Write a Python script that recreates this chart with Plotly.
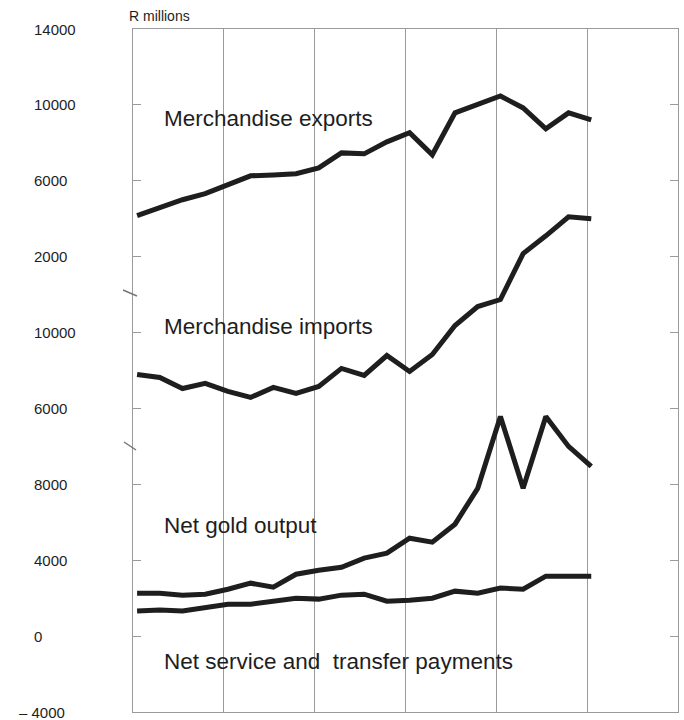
import plotly.graph_objects as go

# ---------------- data (R millions, quarterly) ----------------
quarters = ["1976Q1", "1976Q2", "1976Q3", "1976Q4",
            "1977Q1", "1977Q2", "1977Q3", "1977Q4",
            "1978Q1", "1978Q2", "1978Q3", "1978Q4",
            "1979Q1", "1979Q2", "1979Q3", "1979Q4",
            "1980Q1", "1980Q2", "1980Q3", "1980Q4",
            "1981Q1"]

merch_exports = [4160, 4580, 5000, 5320, 5790, 6260, 6310, 6370, 6680, 7470, 7420,
                 8050, 8530, 7370, 9580, 10050, 10470, 9840, 8740, 9580, 9210]
merch_imports = [7790, 7630, 7050, 7320, 6900, 6580, 7110, 6790, 7160, 8110, 7740,
                 8790, 7950, 8840, 10370, 11370, 11740, 14160, 15100, 16100, 16000]
net_gold = [2260, 2260, 2160, 2210, 2470, 2790, 2580, 3260, 3470, 3630, 4110,
            4370, 5160, 4950, 5900, 7790, 11580, 7790, 11580, 10000, 8950]
net_services = [1320, 1370, 1320, 1470, 1680, 1680, 1840, 2000, 1950, 2160, 2210,
                1840, 1890, 2000, 2370, 2260, 2530, 2470, 3160, 3160, 3160]

exports_ticks = [14000, 10000, 6000, 2000]
imports_ticks = [10000, 6000]
bottom_ticks = [8000, 4000, 0, -4000]
year_lines = [1977, 1978, 1979, 1980, 1981]

# ---------------- helpers ----------------
x = [int(q[:4]) + (int(q[5]) - 1) / 4 + 0.045 for q in quarters]

W, H = 684, 720
ML, MR, MT, MB = 133, 6, 29, 8
PW, PH = W - ML - MR, H - MT - MB


def px_x(p):
    return (p - ML) / PW


def px_y(p):
    return (H - MB - p) / PH


FONT = "Liberation Sans, Arial, Helvetica, sans-serif"
INK = "#1e1e1e"
GRID = "#9a9a9a"
LINE_W = 5

fig = go.Figure()
fig.add_trace(go.Scatter(x=x, y=merch_exports, yaxis="y", mode="lines",
                         line=dict(color=INK, width=LINE_W), name="Merchandise exports"))
fig.add_trace(go.Scatter(x=x, y=merch_imports, yaxis="y2", mode="lines",
                         line=dict(color=INK, width=LINE_W), name="Merchandise imports"))
fig.add_trace(go.Scatter(x=x, y=net_gold, yaxis="y3", mode="lines",
                         line=dict(color=INK, width=LINE_W), name="Net gold output"))
fig.add_trace(go.Scatter(x=x, y=net_services, yaxis="y3", mode="lines",
                         line=dict(color=INK, width=LINE_W),
                         name="Net service and transfer payments"))

common_y = dict(showgrid=False, zeroline=False, showticklabels=False,
                ticks="inside", ticklen=8, tickwidth=1, tickcolor=GRID,
                showline=True, linecolor=GRID, linewidth=1, mirror="ticks",
                fixedrange=True)

fig.update_layout(
    width=W, height=H,
    margin=dict(l=ML, r=MR, t=MT, b=MB),
    paper_bgcolor="white", plot_bgcolor="white",
    showlegend=False,
    xaxis=dict(range=[1976, 1982], tickvals=year_lines, showticklabels=False,
               ticks="", showgrid=True, gridcolor=GRID, gridwidth=1,
               zeroline=False, showline=True, linecolor=GRID, linewidth=1,
               mirror=True, fixedrange=True),
    yaxis=dict(range=[-22000, 14000], tickvals=exports_ticks, **common_y),
    yaxis2=dict(range=[-10000, 26000], tickvals=imports_ticks, overlaying="y",
                side="left", **common_y),
    yaxis3=dict(range=[-4000, 32000], tickvals=bottom_ticks, overlaying="y",
                side="left", **common_y),
)

# left-aligned tick labels (as in the original print)
ann = []
lab_x = px_x(32)
for ax, vals in (("y", exports_ticks), ("y2", imports_ticks), ("y3", bottom_ticks)):
    for v in vals:
        txt = str(v) if v >= 0 else "\u2013 " + str(-v)
        xx = lab_x if v >= 0 else px_x(17)
        ann.append(dict(x=xx, xref="paper", y=v, yref=ax, text=txt,
                        showarrow=False, xanchor="left", yanchor="middle",
                        font=dict(family=FONT, size=15, color=INK)))

ann.append(dict(x=px_x(127), xref="paper", y=px_y(16), yref="paper",
                text="R millions", showarrow=False, xanchor="left", yanchor="middle",
                font=dict(family=FONT, size=14, color=INK)))

series_labels = [("Merchandise exports", 118),
                 ("Merchandise imports", 327),
                 ("Net gold output", 525),
                 ("Net service and  transfer payments", 661)]
for txt, py in series_labels:
    ann.append(dict(x=px_x(162), xref="paper", y=px_y(py), yref="paper",
                    text=txt.replace("  ", "&nbsp; "), showarrow=False,
                    xanchor="left", yanchor="middle",
                    font=dict(family=FONT, size=22.5, color=INK)))

fig.update_layout(annotations=ann)

# axis-break marks on the left axis
shapes = []
for (x0, y0, x1, y1) in ((123, 290, 137, 296), (124, 442, 136, 450)):
    shapes.append(dict(type="line", xref="paper", yref="paper",
                       x0=px_x(x0), y0=px_y(y0), x1=px_x(x1), y1=px_y(y1),
                       line=dict(color="#777", width=1.5)))
fig.update_layout(shapes=shapes)

fig.write_html("out.html",
               config={"displayModeBar": False, "staticPlot": True},
               post_script="document.body.style.margin='0px';"
                           "document.body.style.overflow='hidden';")
